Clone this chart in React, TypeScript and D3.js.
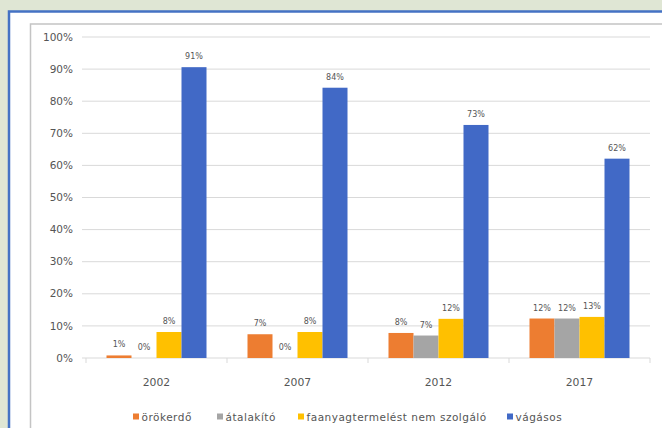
import * as d3 from 'd3'
import React from 'react'

const years = ['2002', '2007', '2012', '2017']
const seriesNames = ['örökerdő', 'átalakító', 'faanyagtermelést nem szolgáló', 'vágásos']
const orokerdo = [0.8, 7.4, 7.8, 12.3]
const atalakito = [0, 0, 7.0, 12.3]
const faanyag = [8.1, 8.1, 12.2, 12.8]
const vagasos = [90.6, 84.2, 72.6, 62.1]
const yTicks = [0, 10, 20, 30, 40, 50, 60, 70, 80, 90, 100]

const colors = ['#ED7D31', '#A5A5A5', '#FFC000', '#4169C6']
const legendX = [133, 217, 298, 507]

const W = 662
const H = 428
const plot = { left: 86, right: 650, top: 37, bottom: 358 }
const font = 'DejaVu Sans, sans-serif'
const textColor = '#555555'

const App: React.FC = () => {
  const series = [orokerdo, atalakito, faanyag, vagasos]

  const x = d3.scaleBand().domain(years).range([plot.left, plot.right]).paddingInner(0).paddingOuter(0)
  const inner = d3
    .scaleBand()
    .domain(seriesNames)
    .range([0, x.bandwidth()])
    .paddingOuter(0.82)
    .paddingInner(0)
  const y = d3.scaleLinear().domain([0, 100]).range([plot.bottom, plot.top])

  const boundaries = years.map((yr) => x(yr) as number).concat([plot.right])

  return (
    <div style={{ position: 'fixed', left: 0, top: 0 }}>
      <svg width={W} height={H} style={{ display: 'block' }}>
        <rect x={0} y={0} width={W} height={H} fill='#dfe6d4' />
        <rect x={9} y={11.5} width={W + 20} height={H + 20} fill='#ffffff' stroke='#4472C4' strokeWidth={2.5} />
        <rect x={30.5} y={24} width={W + 20} height={H + 20} fill='#ffffff' stroke='#c4c4c4' strokeWidth={1.5} />

        {/* gridlines + y labels */}
        {yTicks.map((t) => (
          <g key={t}>
            <line x1={plot.left - 4} x2={plot.right} y1={y(t)} y2={y(t)} stroke='#d9d9d9' strokeWidth={1} />
            <text
              x={73}
              y={y(t)}
              dy='0.35em'
              textAnchor='end'
              fontFamily={font}
              fontSize={10.5}
              fill={textColor}
            >
              {t}%
            </text>
          </g>
        ))}

        {/* category ticks */}
        {boundaries.map((bx, i) => (
          <line key={i} x1={bx} x2={bx} y1={plot.bottom} y2={plot.bottom + 5} stroke='#d9d9d9' strokeWidth={1} />
        ))}

        {/* bars */}
        {years.map((yr, i) => (
          <g key={yr} transform={`translate(${x(yr)},0)`}>
            {series.map((s, j) => {
              const bx = inner(seriesNames[j]) as number
              const v = s[i]
              return (
                <g key={j}>
                  <rect
                    x={bx}
                    y={y(v)}
                    width={inner.bandwidth()}
                    height={plot.bottom - y(v)}
                    fill={colors[j]}
                  />
                  <text
                    x={bx + inner.bandwidth() / 2}
                    y={y(v) - 8}
                    textAnchor='middle'
                    fontFamily={font}
                    fontSize={8}
                    fill={textColor}
                  >
                    {Math.round(v)}%
                  </text>
                </g>
              )
            })}
            <text
              x={x.bandwidth() / 2}
              y={386}
              textAnchor='middle'
              fontFamily={font}
              fontSize={10.8}
              fill={textColor}
            >
              {yr}
            </text>
          </g>
        ))}

        {/* legend */}
        {seriesNames.map((name, j) => (
          <g key={name} transform={`translate(${legendX[j]},417)`}>
            <rect x={0} y={-3.5} width={6} height={6} fill={colors[j]} />
            <text
              x={8.5}
              y={0}
              dy='0.35em'
              fontFamily={font}
              fontSize={10.5}
              letterSpacing={0.5}
              fill={textColor}
            >
              {name}
            </text>
          </g>
        ))}
      </svg>
    </div>
  )
}

export default App
